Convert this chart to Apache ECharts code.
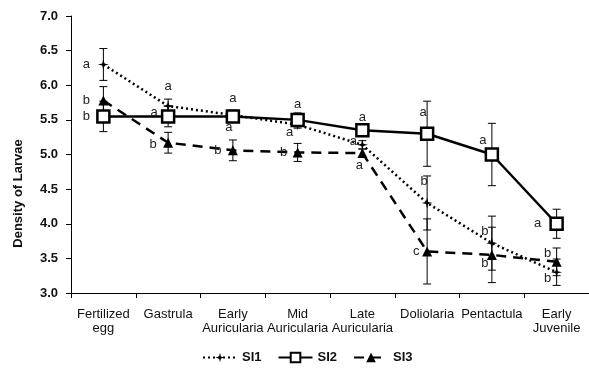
<!DOCTYPE html>
<html>
<head>
<meta charset="utf-8">
<script src="https://cdn.jsdelivr.net/npm/echarts@6/dist/echarts.min.js"></script>
<style>
  html, body { margin: 0; padding: 0; background: #fff; }
  #chart { width: 589px; height: 371px; }
</style>
</head>
<body>
<div id="chart"></div>
<script>
// stages
const stages = ['Fertilized\negg', 'Gastrula', 'Early\nAuricularia', 'Mid\nAuricularia',
  'Late\nAuricularia', 'Doliolaria', 'Pentactula', 'Early\nJuvenile']

// means
const si1 = [6.3, 5.7, 5.57, 5.43, 5.14, 4.3, 3.72, 3.3]
const si2 = [5.55, 5.55, 5.55, 5.5, 5.35, 5.3, 5.0, 4.0]
const si3 = [5.78, 5.17, 5.06, 5.03, 5.02, 3.6, 3.55, 3.45]

// error bar half-widths
const si1Err = [0.23, 0.1, 0.05, 0.05, 0.06, 0.39, 0.39, 0.19]
const si2Err = [0.22, 0.15, 0.09, 0.1, 0.08, 0.47, 0.45, 0.21]
const si3Err = [0.2, 0.15, 0.15, 0.13, 0.06, 0.47, 0.4, 0.2]

// significance letters
const si1Sig = ['a', 'a', 'a', 'a', 'a', 'b', 'b', 'b']
const si2Sig = ['b', 'a', 'a', 'a', 'a', 'a', 'a', 'a']
const si3Sig = ['b', 'b', 'b', 'b', 'a', 'c', 'b', 'b']

// label offsets from the point (layout only)
const si1Off = [[-17, 0], [0, -20], [0, -17], [-8, 8], [-9, -3], [-3, -22], [-7, -12], [-9, 6]]
const si2Off = [[-17, 0], [-14, -4], [-4, 11], [0, -15], [0, -13], [-4, -21], [-9, -14], [-19, 0]]
const si3Off = [[-17, 0], [-15, 2], [-15, 0], [-14, 0], [-3, 12], [-11, 0], [-7, 9], [-9, -8]]

const font = 'Liberation Sans, Arial, sans-serif'
const chart = echarts.init(document.getElementById('chart'))

function withLabels(values, letters, offsets) {
  return values.map((v, i) => ({
    value: v,
    label: {
      show: true,
      position: 'inside',
      offset: offsets[i],
      formatter: letters[i],
      color: '#222',
      fontFamily: font,
      fontSize: 13
    }
  }))
}

// error bars drawn through the axis scales
function errorSeries(name, values, errs) {
  return {
    name: name + ' err',
    type: 'custom',
    z: 1,
    silent: true,
    data: values.map((v, i) => [i, v - errs[i], v + errs[i]]),
    renderItem: function (params, api) {
      const lo = api.coord([api.value(0), api.value(1)])
      const hi = api.coord([api.value(0), api.value(2)])
      const half = 4
      const style = { stroke: '#000', lineWidth: 1 }
      return {
        type: 'group',
        children: [
          { type: 'line', shape: { x1: lo[0], y1: lo[1], x2: hi[0], y2: hi[1] }, style: style },
          { type: 'line', shape: { x1: lo[0] - half, y1: lo[1], x2: lo[0] + half, y2: lo[1] }, style: style },
          { type: 'line', shape: { x1: hi[0] - half, y1: hi[1], x2: hi[0] + half, y2: hi[1] }, style: style }
        ]
      }
    }
  }
}

const starPath = 'path://M0,-10L2,-2L10,0L2,2L0,10L-2,2L-10,0L-2,-2Z'

const option = {
  animation: false,
  backgroundColor: '#fff',
  grid: { left: 71, right: -6, top: 16, bottom: 78 },
  legend: {
    bottom: 2,
    left: 197,
    itemWidth: 34,
    itemHeight: 12,
    itemGap: 16,
    textStyle: { fontFamily: font, fontSize: 13, fontWeight: 'bold', color: '#111' },
    data: ['SI1', 'SI2', 'SI3']
  },
  xAxis: {
    type: 'category',
    data: stages,
    axisLine: { lineStyle: { color: '#000', width: 1 } },
    axisTick: { show: true, length: 5, lineStyle: { color: '#000' } },
    axisLabel: {
      color: '#111',
      fontFamily: font,
      fontSize: 13,
      lineHeight: 14,
      margin: 14,
      interval: 0
    }
  },
  yAxis: {
    type: 'value',
    min: 3,
    max: 7,
    interval: 0.5,
    name: 'Density of Larvae',
    nameLocation: 'middle',
    nameGap: 46,
    nameTextStyle: {
      fontFamily: font, fontSize: 13, fontWeight: 'bold', color: '#111',
      padding: [0, 78, 0, 0]
    },
    axisLine: { show: true, lineStyle: { color: '#000', width: 1 } },
    axisTick: { show: true, length: 5, lineStyle: { color: '#000' } },
    splitLine: { show: false },
    axisLabel: {
      color: '#111',
      fontFamily: font,
      fontSize: 13,
      fontWeight: 'bold',
      margin: 13,
      formatter: v => v.toFixed(1)
    }
  },
  series: [
    errorSeries('SI1', si1, si1Err),
    errorSeries('SI2', si2, si2Err),
    errorSeries('SI3', si3, si3Err),
    {
      name: 'SI1',
      type: 'line',
      z: 3,
      data: withLabels(si1, si1Sig, si1Off),
      symbol: starPath,
      symbolSize: 11,
      lineStyle: { color: '#000', width: 2.5, type: [2, 3] },
      itemStyle: { color: '#000', borderWidth: 0 }
    },
    {
      name: 'SI2',
      type: 'line',
      z: 4,
      data: withLabels(si2, si2Sig, si2Off),
      symbol: 'rect',
      symbolSize: 12,
      lineStyle: { color: '#000', width: 2.5 },
      itemStyle: { color: '#fff', borderColor: '#000', borderWidth: 2.5 }
    },
    {
      name: 'SI3',
      type: 'line',
      z: 3,
      data: withLabels(si3, si3Sig, si3Off),
      symbol: 'triangle',
      symbolSize: 10,
      lineStyle: { color: '#000', width: 2.5, type: [10, 7] },
      itemStyle: { color: '#000', borderWidth: 0 }
    }
  ]
}

chart.setOption(option)
</script>
</body>
</html>
